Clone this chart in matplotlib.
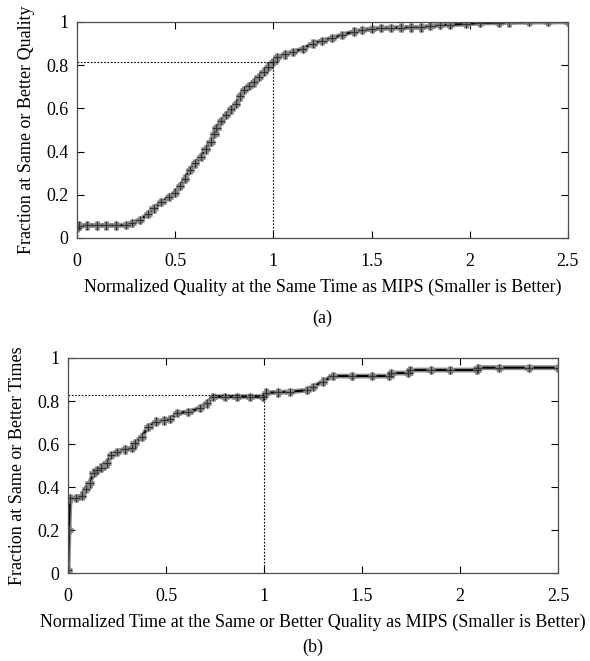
import numpy as np
import matplotlib.pyplot as plt
import matplotlib.patheffects as pe

plt.rcParams['font.family'] = ['Liberation Serif', 'DejaVu Serif']
plt.rcParams['font.size'] = 13

# (a) normalized quality at same time as MIPS
qual_x = [0.0, 0.01, 0.05, 0.1, 0.15, 0.2, 0.25, 0.28, 0.32, 0.36, 0.39, 0.43, 0.47, 0.5, 0.525,
          0.55, 0.575, 0.6, 0.63, 0.655, 0.68, 0.7, 0.71, 0.735, 0.76, 0.785, 0.81, 0.83, 0.85, 0.875,
          0.9, 0.925, 0.95, 0.975, 1.0, 1.02, 1.06, 1.1, 1.15, 1.2, 1.25, 1.3, 1.35, 1.41, 1.45,
          1.5, 1.55, 1.6, 1.65, 1.7, 1.75, 1.8, 1.85, 1.9, 1.98, 2.05, 2.15, 2.2, 2.3, 2.4, 2.5]
qual_y = [0.046, 0.057, 0.058, 0.058, 0.058, 0.058, 0.06, 0.07, 0.083, 0.11, 0.137, 0.165, 0.19, 0.21, 0.24,
          0.275, 0.315, 0.345, 0.376, 0.41, 0.446, 0.48, 0.51, 0.54, 0.57, 0.595, 0.62, 0.655, 0.685, 0.705,
          0.72, 0.745, 0.77, 0.793, 0.816, 0.836, 0.85, 0.862, 0.875, 0.90, 0.913, 0.925, 0.94, 0.955, 0.962,
          0.968, 0.971, 0.973, 0.974, 0.975, 0.975, 0.98, 0.985, 0.988, 0.99, 0.995, 0.997, 0.998, 0.999, 1.0, 1.0]
qual_ref = 0.815

# (b) normalized time at same or better quality as MIPS
time_x = [0.0, 0.005, 0.01, 0.04, 0.07, 0.09, 0.11, 0.13, 0.146, 0.17, 0.197, 0.22, 0.25, 0.29, 0.325,
          0.34, 0.376, 0.41, 0.45, 0.49, 0.52, 0.555, 0.614, 0.673, 0.708, 0.74, 0.8, 0.86, 0.93, 0.996,
          1.01, 1.07, 1.13, 1.22, 1.25, 1.30, 1.35, 1.45, 1.55, 1.64, 1.65, 1.737, 1.745, 1.85, 1.95,
          2.085, 2.09, 2.2, 2.35, 2.5]
time_y = [0.014, 0.2, 0.347, 0.35, 0.36, 0.39, 0.417, 0.464, 0.479, 0.49, 0.51, 0.549, 0.564, 0.575, 0.58,
          0.603, 0.634, 0.68, 0.704, 0.71, 0.715, 0.743, 0.75, 0.766, 0.789, 0.82, 0.82, 0.82, 0.82, 0.82,
          0.839, 0.84, 0.843, 0.85, 0.866, 0.89, 0.916, 0.916, 0.916, 0.916, 0.93, 0.93, 0.944, 0.944, 0.944,
          0.944, 0.955, 0.955, 0.955, 0.955]
time_ref = 0.83

xticks = [0, 0.5, 1, 1.5, 2, 2.5]
xticklabels = ['0', '0.5', '1', '1.5', '2', '2.5']
yticks = [0, 0.2, 0.4, 0.6, 0.8, 1]
yticklabels = ['0', '0.2', '0.4', '0.6', '0.8', '1']

fig = plt.figure(figsize=(5.9, 6.61), dpi=100)
ax1 = fig.add_axes([0.1305, 0.64, 0.832, 0.3268])
ax2 = fig.add_axes([0.1153, 0.1331, 0.8305, 0.3253])

panels = [
    (ax1, qual_x, qual_y, qual_ref, 'Normalized Quality at the Same Time as MIPS (Smaller is Better)',
     'Fraction at Same or Better Quality', '(a)', 0.547, 0.519),
    (ax2, time_x, time_y, time_ref, 'Normalized Time at the Same or Better Quality as MIPS (Smaller is Better)',
     'Fraction at Same or Better Times', '(b)', 0.530, 0.02),
]

for ax, x, y, ref, xl, yl, tag, tx, ty in panels:
    ax.plot(x, y, color='black', lw=1.4, marker='+', ms=6, mew=0.9, mec='0.2',
            path_effects=[pe.Stroke(linewidth=3.5, foreground='0.55'), pe.Normal()])
    ax.plot([0, 1], [ref, ref], color='black', lw=0.8, ls=(0, (1.5, 1.5)))
    ax.plot([1, 1], [0, ref], color='black', lw=0.8, ls=(0, (1.5, 1.5)))
    ax.set_xlim(0, 2.5)
    ax.set_ylim(0, 1)
    ax.set_xticks(xticks)
    ax.set_xticklabels(xticklabels)
    ax.set_yticks(yticks)
    ax.set_yticklabels(yticklabels)
    ax.tick_params(axis='y', direction='in', right=True, length=5, width=0.8, pad=6)
    ax.tick_params(axis='x', direction='in', top=True, length=5, width=0.8, pad=11)
    for s in ax.spines.values():
        s.set_linewidth(0.9)
        s.set_color('0.3')
    ax.set_xlabel(xl, labelpad=6)
    ax.set_ylabel(yl, labelpad=8)
    fig.text(tx, ty, tag, ha='center', va='center', fontsize=13)

fig.savefig('out.png', dpi=100)
